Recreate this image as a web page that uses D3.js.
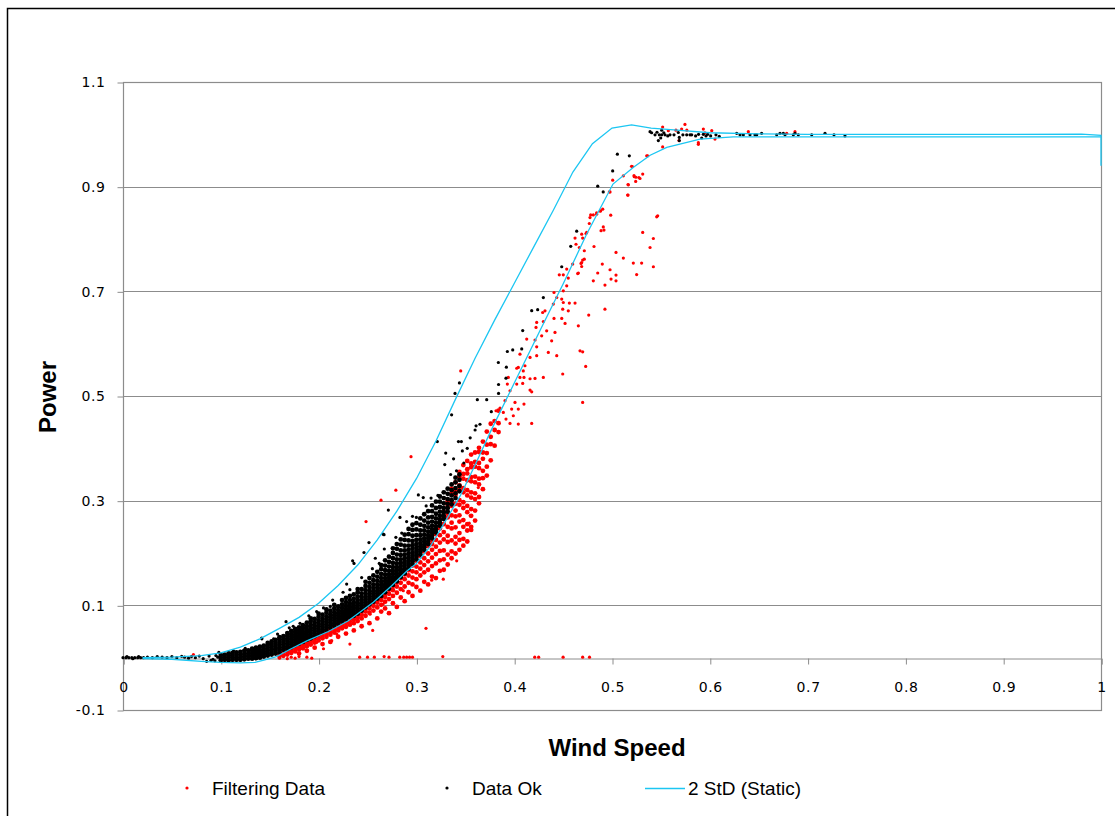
<!DOCTYPE html>
<html>
<head>
<meta charset="utf-8">
<script src="https://cdn.jsdelivr.net/npm/d3@7"></script>
<style>
  body { margin: 0; background: #fff; }
  svg { display: block; }
</style>
</head>
<body>
<div id="chart"></div>
<script>
// axis ticks
const xTicks = [0, 0.1, 0.2, 0.3, 0.4, 0.5, 0.6, 0.7, 0.8, 0.9, 1];
const yTicks = [-0.1, 0.1, 0.3, 0.5, 0.7, 0.9, 1.1];
const seriesNames = ["Filtering Data", "Data Ok", "2 StD (Static)"];

// 2 StD band, upper and lower curve
const stdUpper = [[0.02,0.0],[0.05,0.001],[0.08,0.004],[0.10,0.009],[0.12,0.020],[0.14,0.036],[0.16,0.056],[0.18,0.077],[0.20,0.104],[0.22,0.138],[0.24,0.177],[0.26,0.225],[0.28,0.280],[0.30,0.342],[0.32,0.414],[0.34,0.494],[0.36,0.572],[0.38,0.645],[0.40,0.715],[0.42,0.785],[0.44,0.855],[0.46,0.928],[0.48,0.982],[0.50,1.012],[0.52,1.018],[0.54,1.012],[0.56,1.009],[0.60,1.003],[0.65,1.001],[0.70,1.000],[0.80,1.000],[0.90,1.000],[0.98,1.0004],[1.0,0.998],[1.0,0.94]];
const stdLower = [[0.02,-0.002],[0.05,-0.003],[0.08,-0.007],[0.10,-0.009],[0.12,-0.010],[0.135,-0.009],[0.145,-0.004],[0.157,0.002],[0.171,0.016],[0.188,0.032],[0.21,0.050],[0.23,0.070],[0.256,0.106],[0.275,0.138],[0.29,0.165],[0.30,0.180],[0.314,0.212],[0.33,0.262],[0.345,0.310],[0.36,0.368],[0.3753,0.430],[0.3957,0.508],[0.4264,0.625],[0.45,0.714],[0.474,0.809],[0.501,0.905],[0.522,0.937],[0.539,0.960],[0.556,0.975],[0.59,0.991],[0.624,0.995],[0.8,0.995],[1.0,0.995]];

// "Data Ok" dense band, read column by column: [x, [y...]]
const okColumns = [
  [0.100,[-0.005,0.000,0.005]],[0.104,[-0.004,0.001,0.006]],[0.108,[-0.005,0.0,0.004,0.008]],
  [0.112,[-0.004,0.001,0.005,0.009]],[0.116,[-0.004,0.0,0.005,0.010]],[0.120,[-0.004,0.001,0.006,0.011]],
  [0.124,[-0.003,0.002,0.007,0.013]],[0.128,[-0.002,0.003,0.008,0.014]],[0.132,[-0.002,0.003,0.008,0.013,0.017]],
  [0.136,[-0.001,0.004,0.009,0.014,0.019]],[0.140,[0.0,0.005,0.010,0.015,0.021]],[0.144,[0.002,0.007,0.012,0.017,0.023]],
  [0.148,[0.004,0.009,0.014,0.019,0.024,0.028]],[0.152,[0.006,0.011,0.016,0.021,0.026,0.031]],
  [0.156,[0.008,0.013,0.018,0.023,0.028,0.034]],[0.160,[0.010,0.015,0.020,0.025,0.030,0.035,0.039]],
  [0.164,[0.015,0.020,0.025,0.030,0.035,0.041]],[0.168,[0.017,0.022,0.027,0.032,0.037,0.042,0.047]],
  [0.172,[0.020,0.025,0.030,0.035,0.040,0.045,0.051]],[0.176,[0.024,0.029,0.034,0.039,0.044,0.049,0.055]],
  [0.180,[0.027,0.032,0.037,0.042,0.047,0.052,0.058]],[0.184,[0.030,0.035,0.040,0.045,0.050,0.056,0.062]],
  [0.188,[0.034,0.039,0.044,0.049,0.054,0.060,0.067]],[0.192,[0.037,0.042,0.047,0.052,0.057,0.063,0.070,0.075]],
  [0.196,[0.041,0.046,0.051,0.056,0.061,0.067,0.074]],[0.200,[0.045,0.050,0.055,0.060,0.065,0.071,0.078,0.084]],
  [0.204,[0.049,0.054,0.059,0.064,0.069,0.075,0.082]],[0.208,[0.053,0.058,0.063,0.068,0.073,0.079,0.086,0.092]],
  [0.212,[0.057,0.062,0.067,0.072,0.077,0.083,0.090]],[0.216,[0.061,0.066,0.071,0.076,0.081,0.087,0.094,0.101]],
  [0.220,[0.065,0.070,0.075,0.080,0.085,0.091,0.098]],[0.224,[0.069,0.074,0.079,0.084,0.089,0.095,0.102,0.110]],
  [0.228,[0.073,0.078,0.083,0.088,0.093,0.099,0.106,0.114]],[0.232,[0.077,0.082,0.087,0.092,0.097,0.103,0.110,0.118]],
  [0.236,[0.080,0.085,0.090,0.095,0.100,0.106,0.113,0.121]],[0.240,[0.084,0.089,0.094,0.099,0.104,0.110,0.117,0.125,0.131]],
  [0.244,[0.090,0.095,0.100,0.105,0.110,0.116,0.123,0.131]],[0.248,[0.096,0.101,0.106,0.111,0.116,0.122,0.129,0.137,0.145]],
  [0.252,[0.102,0.107,0.112,0.117,0.122,0.128,0.135,0.143,0.152]],[0.256,[0.107,0.112,0.117,0.122,0.127,0.133,0.140,0.148,0.157]],
  [0.260,[0.113,0.118,0.123,0.128,0.134,0.140,0.147,0.155,0.164]],[0.264,[0.118,0.123,0.128,0.133,0.139,0.145,0.152,0.160,0.169,0.177]],
  [0.268,[0.125,0.130,0.135,0.140,0.146,0.152,0.159,0.167,0.176,0.186]],[0.272,[0.132,0.137,0.142,0.147,0.153,0.159,0.166,0.174,0.183,0.193]],
  [0.276,[0.139,0.144,0.149,0.154,0.160,0.166,0.173,0.181,0.190,0.200,0.209]],[0.280,[0.146,0.151,0.156,0.161,0.167,0.173,0.180,0.188,0.197,0.208,0.217]],
  [0.284,[0.154,0.159,0.164,0.169,0.175,0.181,0.188,0.196,0.205,0.216,0.226]],[0.288,[0.161,0.166,0.171,0.177,0.183,0.190,0.197,0.205,0.214,0.225,0.235]],
  [0.292,[0.170,0.175,0.180,0.186,0.192,0.199,0.206,0.214,0.224,0.236,0.246]],[0.296,[0.179,0.184,0.189,0.195,0.201,0.208,0.215,0.223,0.233,0.244,0.254]],
  [0.300,[0.188,0.193,0.198,0.204,0.210,0.217,0.225,0.234,0.245,0.257]],[0.304,[0.197,0.202,0.207,0.213,0.219,0.226,0.234,0.243,0.254,0.266]],
  [0.308,[0.206,0.211,0.216,0.222,0.228,0.235,0.243,0.252,0.262,0.274]],[0.312,[0.217,0.222,0.228,0.234,0.241,0.249,0.258,0.268,0.280]],
  [0.316,[0.228,0.233,0.239,0.245,0.252,0.260,0.269,0.280,0.291]],[0.320,[0.239,0.245,0.251,0.258,0.266,0.275,0.286,0.298]],
  [0.324,[0.252,0.258,0.264,0.271,0.279,0.288,0.298,0.308]],[0.328,[0.265,0.271,0.278,0.286,0.295,0.305,0.316]],
  [0.332,[0.279,0.286,0.294,0.303,0.313,0.323]],[0.336,[0.293,0.301,0.310,0.320,0.331]],[0.340,[0.305,0.314,0.324,0.335,0.344]],
  [0.344,[0.318,0.328,0.340,0.350]]
];

// "Data Ok" single points: zero run, outliers, upper curve, plateau
const okPoints = [
  [0,0],[0.003,0],[0.006,0],[0.009,0],[0.012,0],[0.015,0],[0.018,0],[0.021,0],[0.004,0.002],[0.010,-0.002],[0.016,0.002],
  [0.025,0.001],[0.03,0],[0.035,0.002],[0.04,0.001],[0.045,0],[0.05,0.002],[0.055,0],[0.06,0.0025],[0.063,0.001],[0.067,-0.001],
  [0.07,0.002],[0.074,0],[0.078,0.003],[0.082,-0.002],[0.0855,-0.007],[0.088,0.003],[0.092,-0.003],[0.095,0.004],[0.098,0.010],
  [0.09,-0.005],[0.094,-0.006],[0.097,0.001],
  [0.1418,0.0376],[0.1667,0.0688],[0.181,0.0656],[0.2144,0.110],[0.2287,0.1407],[0.2362,0.180],[0.2348,0.185],[0.244,0.153],
  [0.2464,0.201],[0.2515,0.220],[0.2669,0.235],[0.2672,0.2076],[0.2713,0.282],[0.2832,0.268],[0.302,0.311],[0.307,0.306],
  [0.154,0.036],[0.142,0.036],[0.266,0.236],[0.258,0.19],[0.29,0.26],[0.296,0.27],[0.31,0.29],[0.315,0.305],[0.279,0.23],
  [0.225,0.125],[0.205,0.095],[0.19,0.08],[0.174,0.06],[0.125,0.018],[0.113,0.013],[0.198,0.088],[0.232,0.13],[0.255,0.17],
  [0.262,0.18],[0.285,0.238],[0.3,0.268],[0.322,0.31],[0.212,0.098],[0.17,0.057],[0.158,0.045],
  [0.3214,0.413],[0.330,0.391],[0.329,0.369],[0.341,0.357],[0.343,0.413],[0.346,0.413],[0.347,0.395],[0.360,0.435],
  [0.352,0.40],[0.355,0.42],[0.338,0.38],[0.335,0.35],[0.3485,0.372],
  [0.336,0.464],[0.3395,0.505],[0.344,0.525],[0.361,0.443],[0.365,0.446],[0.3623,0.493],[0.3719,0.493],[0.3766,0.470],
  [0.384,0.522],[0.384,0.505],[0.3838,0.564],[0.3916,0.534],[0.392,0.555],[0.393,0.585],[0.3985,0.588],[0.4077,0.590],
  [0.4087,0.625],[0.4179,0.663],[0.424,0.665],[0.4298,0.688],[0.4486,0.747],[0.4578,0.786],[0.4639,0.815],[0.4854,0.901],
  [0.491,0.890],[0.5007,0.930],[0.5055,0.962],[0.5177,0.959],
  [0.5389,1.005],[0.544,0.999],[0.5484,0.999],[0.5508,1.008],[0.5498,0.993],[0.5474,0.988],[0.5508,0.999],[0.5542,0.999],
  [0.5593,0.999],[0.5634,0.999],[0.5678,1.0035],[0.5688,0.994],[0.5688,0.988],[0.5764,0.999],[0.5798,0.999],[0.5815,0.999],
  [0.5917,0.993],[0.5934,1.000],[0.5961,0.997],[0.5978,1.000],[0.6009,0.997],[0.6063,0.999],[0.6097,0.996],[0.6275,1.002],
  [0.6309,0.999],[0.6343,0.999],[0.6411,0.999],[0.6462,0.999],[0.648,0.999],[0.653,1.002],[0.6684,0.999],[0.6718,1.002],
  [0.6752,1.002],[0.6769,0.999],[0.6854,0.999],[0.6871,1.002],[0.6905,0.999],[0.7042,0.999],[0.7178,1.002],[0.727,0.999],
  [0.7382,0.997],[0.5405,1.003],[0.546,1.004],[0.553,1.003],[0.557,0.997],[0.5725,0.999],[0.5855,0.997],[0.5885,1.0]
];

// "Filtering Data" dense band, column by column
const filterColumns = [
  [0.160,[0.002,0.007]],[0.164,[0.004,0.010,0.014]],[0.168,[0.006,0.012,0.016]],[0.172,[0.009,0.015,0.019]],
  [0.176,[0.012,0.018,0.022]],[0.180,[0.008,0.016,0.021,0.026]],[0.184,[0.018,0.024,0.029]],[0.188,[0.013,0.022,0.027,0.032]],
  [0.192,[0.025,0.031,0.036]],[0.196,[0.019,0.029,0.035,0.040]],[0.200,[0.033,0.039,0.044]],[0.204,[0.026,0.037,0.043,0.048]],
  [0.208,[0.040,0.046,0.052]],[0.212,[0.030,0.044,0.050,0.056]],[0.216,[0.048,0.054,0.060]],[0.220,[0.040,0.052,0.058,0.064]],
  [0.224,[0.056,0.062,0.068]],[0.228,[0.046,0.059,0.066,0.072]],[0.232,[0.063,0.069,0.075]],[0.236,[0.052,0.066,0.073,0.079]],
  [0.240,[0.070,0.077,0.083]],[0.244,[0.060,0.075,0.082,0.089]],[0.248,[0.080,0.088,0.095]],[0.252,[0.066,0.086,0.094,0.101]],
  [0.256,[0.090,0.099,0.106]],[0.260,[0.075,0.096,0.105,0.112]],[0.264,[0.088,0.101,0.110,0.117]],[0.268,[0.094,0.107,0.116,0.123]],
  [0.272,[0.085,0.112,0.122,0.130]],[0.276,[0.104,0.118,0.129,0.137]],[0.280,[0.097,0.124,0.136,0.144]],
  [0.284,[0.115,0.131,0.143,0.152]],[0.288,[0.108,0.136,0.150,0.159]],[0.292,[0.125,0.143,0.157,0.167]],
  [0.296,[0.118,0.140,0.153,0.165,0.176]],[0.300,[0.135,0.150,0.163,0.174,0.185]],[0.304,[0.128,0.157,0.170,0.182,0.194]],
  [0.308,[0.145,0.163,0.177,0.190,0.203]],[0.312,[0.140,0.168,0.184,0.199,0.213]],[0.316,[0.155,0.175,0.191,0.206,0.217,0.225]],
  [0.320,[0.152,0.180,0.198,0.212,0.225,0.236]],[0.324,[0.166,0.186,0.204,0.220,0.234,0.247]],
  [0.328,[0.168,0.188,0.205,0.226,0.240,0.255,0.268,0.279]],
  [0.332,[0.178,0.197,0.221,0.233,0.250,0.268,0.276,0.292,0.300]],
  [0.336,[0.190,0.203,0.224,0.247,0.258,0.272,0.290,0.297,0.314,0.323]],
  [0.340,[0.199,0.218,0.231,0.249,0.270,0.281,0.294,0.311,0.318,0.335]],
  [0.344,[0.206,0.225,0.238,0.260,0.272,0.292,0.301,0.320,0.329,0.346,0.355]],
  [0.348,[0.214,0.227,0.250,0.263,0.286,0.297,0.316,0.324,0.342,0.351,0.368]],
  [0.352,[0.222,0.243,0.255,0.278,0.290,0.310,0.320,0.339,0.352,0.360,0.376]],
  [0.356,[0.244,0.250,0.271,0.284,0.306,0.316,0.337,0.345,0.364,0.371,0.388]],
  [0.360,[0.262,0.281,0.303,0.314,0.335,0.346,0.365,0.374,0.392]],
  [0.364,[0.295,0.307,0.331,0.342,0.362,0.372,0.393,0.401]],
  [0.368,[0.322,0.343,0.357,0.380,0.392,0.413]],[0.372,[0.348,0.365,0.391,0.407,0.432]],
  [0.376,[0.377,0.408,0.422,0.447]],[0.380,[0.405,0.435,0.452]],[0.384,[0.431,0.448,0.472]]
];

// "Filtering Data" single points: zero line, outliers, upper curve, plateau
const filterPoints = [
  [0.160,-0.001],[0.164,0.002],[0.168,-0.002],[0.172,0.001],[0.176,-0.001],[0.18,0.002],[0.188,0.001],[0.193,-0.001],
  [0.242,0.001],[0.250,0.001],[0.257,0.001],[0.267,0.002],[0.272,0.001],[0.283,0.001],[0.287,0.001],[0.29,0.001],
  [0.293,0.001],[0.296,0.001],[0.327,0.002],[0.421,0.001],[0.425,0.001],[0.45,0.001],[0.47,0.001],[0.477,0.001],[0.072,0.006],
  [0.2485,0.260],[0.2638,0.301],[0.279,0.320],[0.2945,0.384],[0.3098,0.056],[0.2553,0.052],[0.232,0.026],[0.2134,0.0325],
  [0.205,0.017],[0.188,0.015],[0.3156,0.148],[0.3275,0.150],[0.3412,0.185],[0.354,0.257],[0.355,0.271],[0.3633,0.325],
  [0.2866,0.128],[0.266,0.1025],[0.2526,0.083],[0.2355,0.074],[0.2185,0.045],[0.198,0.029],[0.181,0.017],[0.3453,0.548],
  [0.5355,0.959],[0.520,0.939],[0.5007,0.9125],[0.5225,0.921],[0.5245,0.918],[0.5275,0.9175],[0.5314,0.924],[0.5167,0.9035],
  [0.516,0.884],[0.4973,0.890],[0.4905,0.857],[0.488,0.853],[0.4843,0.8475],[0.4809,0.846],[0.4775,0.841],[0.4987,0.8456],
  [0.4911,0.823],[0.4888,0.816],[0.4768,0.8296],[0.4734,0.8105],[0.470,0.8017],[0.4666,0.7838],[0.4717,0.7775],[0.470,0.7597],
  [0.4683,0.7533],[0.4649,0.734],[0.4816,0.7857],[0.5457,0.8424],[0.5467,0.8443],[0.5314,0.8125],[0.5423,0.801],[0.5389,0.7838],
  [0.5423,0.747],[0.5303,0.754],[0.5218,0.754],[0.5252,0.732],[0.5116,0.7635],[0.5041,0.7743],[0.498,0.7412],[0.5041,0.731],
  [0.5041,0.720],[0.499,0.7234],[0.4901,0.752],[0.4854,0.735],[0.4809,0.720],[0.4928,0.712],[0.4928,0.666],[0.4762,0.6546],
  [0.4656,0.634],[0.4673,0.5864],[0.470,0.5845],[0.4731,0.5565],[0.470,0.4877],[0.4496,0.542],[0.4656,0.735],[0.4717,0.7615],
  [0.469,0.8093],[0.4632,0.790],[0.4622,0.8017],[0.4537,0.7425],[0.4461,0.7316],[0.4502,0.7316],[0.4553,0.7253],[0.4502,0.701],
  [0.4407,0.6978],[0.4435,0.6882],[0.4486,0.6852],[0.4502,0.6787],[0.44,0.6756],[0.4564,0.6776],[0.4622,0.6776],[0.4496,0.666],
  [0.4553,0.6628],[0.4315,0.6628],[0.4291,0.6596],[0.423,0.6405],[0.4298,0.6424],[0.4407,0.6482],[0.4486,0.6482],[0.452,0.6386],
  [0.4417,0.6214],[0.4332,0.6246],[0.4281,0.615],[0.4223,0.631],[0.4213,0.607],[0.423,0.594],[0.4128,0.6088],[0.423,0.577],
  [0.4162,0.5737],[0.4349,0.5832],[0.4383,0.6055],[0.4435,0.577],[0.4298,0.5355],[0.4059,0.580],[0.4042,0.5546],[0.4026,0.553],
  [0.411,0.5578],[0.4093,0.548],[0.41,0.5355],[0.4059,0.5355],[0.4087,0.524],[0.4026,0.5228],[0.4162,0.5114],[0.4179,0.508],
  [0.4213,0.5336],[0.4162,0.533],[0.393,0.5228],[0.394,0.5355],[0.3957,0.510],[0.3906,0.491],[0.4008,0.4877],[0.41,0.4846],
  [0.3974,0.475],[0.4042,0.475],[0.3855,0.477],[0.3889,0.4686],[0.3916,0.456],[0.3991,0.4623],[0.3957,0.4476],[0.4042,0.4464],
  [0.4179,0.4476],[0.3814,0.4718],[0.4782,0.846],[0.4843,0.85],[0.4884,0.854],[0.4918,0.817],[0.4741,0.8125],[0.469,0.755],
  [0.4598,0.752],[0.4537,0.7106],[0.469,0.7475],[0.5116,0.9207],[0.5208,0.9385],[0.5228,0.919],[0.5242,0.91],[0.5286,0.9156],
  [0.5164,0.904],[0.5164,0.884],[0.5365,0.959],[0.498,0.890],
  [0.5518,1.014],[0.5576,1.007],[0.5654,1.008],[0.5712,1.010],[0.5746,1.019],[0.5765,1.008],[0.5685,0.988],[0.5518,0.976],
  [0.5883,0.984],[0.5883,0.981],[0.5934,1.010],[0.595,1.003],[0.602,1.007],[0.6053,0.991],[0.6394,1.005],[0.6871,1.005],[0.6786,1.002]
];

const width = 1115;
const height = 816;
const margins = [82, 14, 106, 123]; // top, right, bottom, left
const dotR = 1.6;     // single markers
const denseR = 2.4;   // markers in the packed band

function flatten(columns) {
  let out = [];
  columns.forEach(([x, ys]) => ys.forEach((y) => out.push([x, y])));
  return out;
}

function drawDots(g, data, r, color, x, y) {
  g.append("g")
    .selectAll("circle")
    .data(data)
    .join("circle")
    .attr("cx", (d) => x(d[0]))
    .attr("cy", (d) => y(d[1]))
    .attr("r", r)
    .attr("fill", color);
}

function drawChart() {
  const [mt, mr, mb, ml] = margins;

  const svg = d3.select("#chart")
    .append("svg")
    .attr("width", width)
    .attr("height", height);

  svg.append("rect").attr("width", width).attr("height", height).attr("fill", "#fff");

  // outer chart frame
  svg.append("rect")
    .attr("x", 7.5).attr("y", 8.5)
    .attr("width", 1200).attr("height", 900)
    .attr("fill", "none")
    .attr("stroke", "#000")
    .attr("stroke-width", 1.5);

  const x = d3.scaleLinear().domain([0, 1]).range([ml, width - mr]);
  const y = d3.scaleLinear().domain([-0.1, 1.1]).range([height - mb, mt]);

  // horizontal gridlines
  svg.append("g")
    .selectAll("line")
    .data(yTicks.slice(1))
    .join("line")
    .attr("x1", x(0)).attr("x2", x(1))
    .attr("y1", (d) => Math.round(y(d)) + 0.5)
    .attr("y2", (d) => Math.round(y(d)) + 0.5)
    .attr("stroke", "#8c8c8c");

  // plot area frame
  svg.append("rect")
    .attr("x", Math.round(x(0)) + 0.5)
    .attr("y", Math.round(y(1.1)) + 0.5)
    .attr("width", Math.round(x(1)) - Math.round(x(0)))
    .attr("height", Math.round(y(-0.1)) - Math.round(y(1.1)))
    .attr("fill", "none")
    .attr("stroke", "#8c8c8c")
    .attr("stroke-width", 1.2);

  // y axis
  const yAxis = svg.append("g")
    .attr("transform", `translate(${Math.round(x(0)) + 0.5},0.5)`)
    .call(d3.axisLeft(y).tickValues(yTicks).tickSize(6).tickPadding(12)
      .tickFormat((d) => d.toFixed(1)));
  yAxis.select(".domain").remove();
  yAxis.selectAll(".tick line").attr("stroke", "#8c8c8c");
  yAxis.selectAll(".tick text")
    .style("font-family", "'DejaVu Sans', Verdana, sans-serif")
    .style("font-size", "14px")
    .style("letter-spacing", "0.6px")
    .attr("fill", "#000");

  // x axis crossing at zero
  const xAxis = svg.append("g")
    .attr("transform", `translate(0.5,${Math.round(y(0)) + 0.5})`)
    .call(d3.axisBottom(x).tickValues(xTicks).tickSize(6).tickPadding(18)
      .tickFormat((d) => (d === 0 ? "0" : d === 1 ? "1" : d.toFixed(1))));
  xAxis.select(".domain").attr("stroke", "#8c8c8c");
  xAxis.selectAll(".tick line").attr("stroke", "#8c8c8c");
  xAxis.selectAll(".tick text")
    .style("font-family", "'DejaVu Sans', Verdana, sans-serif")
    .style("font-size", "14px")
    .style("letter-spacing", "0.6px")
    .attr("fill", "#000");

  // clip to plot area
  svg.append("clipPath").attr("id", "plot-clip")
    .append("rect")
    .attr("x", x(0) - 3).attr("y", y(1.1))
    .attr("width", x(1) - x(0) + 4).attr("height", y(-0.1) - y(1.1));

  const plot = svg.append("g").attr("clip-path", "url(#plot-clip)");

  drawDots(plot, flatten(filterColumns), denseR, "#ff0000", x, y);
  drawDots(plot, filterPoints, dotR, "#ff0000", x, y);
  drawDots(plot, flatten(okColumns), denseR, "#000", x, y);
  drawDots(plot, okPoints, dotR, "#000", x, y);

  const line = d3.line().x((d) => x(d[0])).y((d) => y(d[1]));

  plot.selectAll("path.std")
    .data([stdUpper, stdLower])
    .join("path")
    .attr("class", "std")
    .attr("d", line)
    .attr("fill", "none")
    .attr("stroke", "#1cc6f2")
    .attr("stroke-width", 1.3);

  // axis titles
  svg.append("text")
    .attr("x", 617).attr("y", 756)
    .attr("text-anchor", "middle")
    .style("font-family", "'Liberation Sans', Arial, sans-serif")
    .style("font-size", "24px")
    .style("font-weight", "bold")
    .text("Wind Speed");

  svg.append("text")
    .attr("transform", "translate(56,397) rotate(-90)")
    .attr("text-anchor", "middle")
    .style("font-family", "'Liberation Sans', Arial, sans-serif")
    .style("font-size", "24px")
    .style("font-weight", "bold")
    .text("Power");

  drawLegend(svg);
}

function drawLegend(svg) {
  const legendY = 788;
  const items = [
    { name: seriesNames[0], kind: "dot", color: "#ff0000", mx: 187, tx: 212 },
    { name: seriesNames[1], kind: "dot", color: "#000", mx: 447, tx: 472 },
    { name: seriesNames[2], kind: "line", color: "#1cc6f2", mx: 645, tx: 688 }
  ];

  const legend = svg.append("g").attr("class", "legend");

  items.forEach((item) => {
    if (item.kind === "dot") {
      legend.append("circle")
        .attr("cx", item.mx).attr("cy", legendY)
        .attr("r", dotR)
        .attr("fill", item.color);
    } else {
      legend.append("line")
        .attr("x1", item.mx).attr("x2", item.mx + 40)
        .attr("y1", legendY + 0.5).attr("y2", legendY + 0.5)
        .attr("stroke", item.color)
        .attr("stroke-width", 1.3);
    }
    legend.append("text")
      .attr("x", item.tx).attr("y", legendY + 7)
      .style("font-family", "'Liberation Sans', Arial, sans-serif")
      .style("font-size", "19px")
      .text(item.name);
  });
}

drawChart();
</script>
</body>
</html>
